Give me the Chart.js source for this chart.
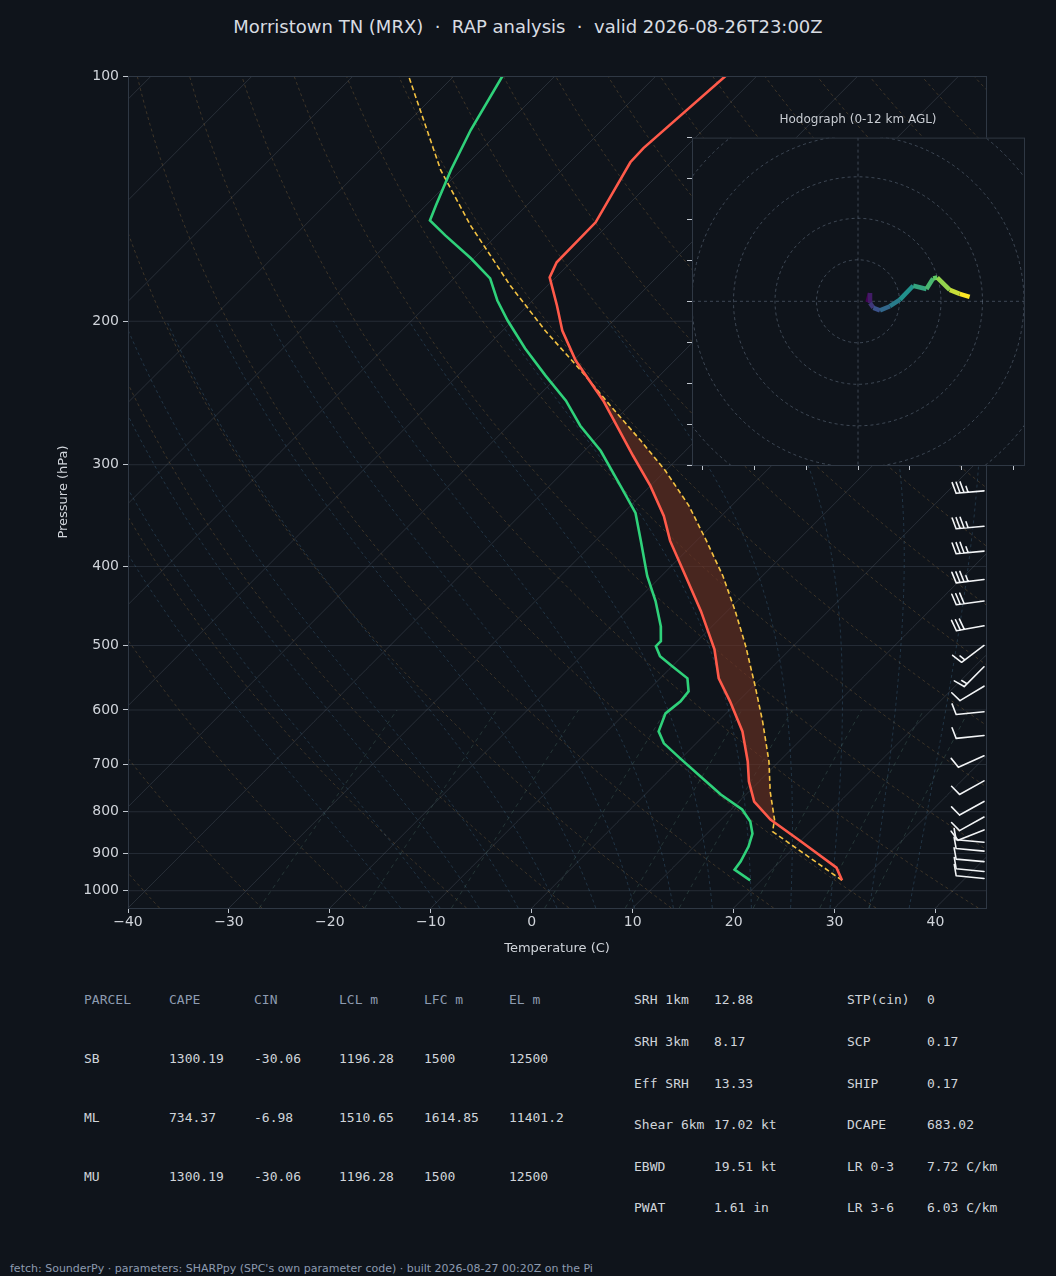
<!DOCTYPE html>
<html><head><meta charset="utf-8">
<script src="https://cdn.jsdelivr.net/npm/chart.js@4/dist/chart.umd.min.js"></script>
<style>
html,body{margin:0;padding:0;background:#0f141b;width:1056px;height:1276px;overflow:hidden;font-family:"DejaVu Sans",sans-serif;}
#title{position:absolute;left:0;width:1056px;top:16px;text-align:center;color:#d8dce2;font-size:18px;white-space:pre;}
#main{position:absolute;left:0;top:0;width:1056px;height:960px;}
#hodoT{position:absolute;left:692px;width:332px;top:112px;text-align:center;color:#c8ccd2;font-size:12px;}
#hodo{position:absolute;left:680px;top:134px;width:350px;height:341px;}
.t{position:absolute;font-family:"DejaVu Sans Mono",monospace;font-size:13px;color:#d0d4da;white-space:pre;}
.h{color:#8d9bb0;}
#foot{position:absolute;left:10px;top:1262px;font-size:11px;color:#8d9bb0;}
</style></head><body>
<div id="title">Morristown TN (MRX)  ·  RAP analysis  ·  valid 2026-08-26T23:00Z</div>
<div id="main"><canvas id="c1" width="1056" height="960"></canvas></div>
<div id="hodoT">Hodograph (0-12 km AGL)</div>
<div id="hodo"><canvas id="c2" width="350" height="341"></canvas></div>
<div id="tables"></div>
<div id="foot">fetch: SounderPy · parameters: SHARPpy (SPC's own parameter code) · built 2026-08-27 00:20Z on the Pi</div>
<script>
// ---- data ----
const tempP = [100,122.6,127.6,151.2,169.3,176.7,191.3,205.3,223.5,250.3,292.5,318.5,346.7,372.1,410.9,453.8,505.3,548.6,585.5,637.4,693.9,734.4,777.1,817.8,870.2,936.9,971];
const tempT = [-63.1,-64.1,-64.0,-61.5,-61.4,-60.6,-57.1,-54.1,-49.8,-43.1,-34.7,-30.0,-25.7,-22.6,-17.6,-12.6,-7.5,-4.2,-0.8,3.4,6.9,9.0,11.5,14.9,20.1,26.2,28.0];
const dewP = [100,116.5,130.5,144.1,150.4,156.9,167.4,177.2,188.6,199.6,216.0,233.2,250.3,268.7,288.4,321.2,343.8,372.1,410.9,441.0,473.4,494.0,501.0,515.4,530.2,548.6,569.1,585.5,605.8,637.4,659.3,687.9,723.9,761.9,794.9,822.4,850.8,882.7,921.0,942.2,971];
const dewT = [-85.2,-83.0,-81.0,-79.0,-78.1,-75.1,-70.3,-66.4,-63.5,-60.5,-56.0,-51.3,-46.8,-42.9,-38.4,-32.5,-28.8,-25.5,-21.4,-18.1,-15.1,-13.6,-13.6,-12.2,-10.0,-7.3,-5.9,-5.7,-6.0,-4.9,-3.2,-0.1,3.7,7.5,11.1,13.1,14.5,15.4,16.1,16.3,18.9];
const parcelP = [971,846,817.8,755.5,693.9,619.5,561.1,501.0,453.8,410.9,372.1,337.0,305.2,280.4,253.9,229.9,205.3,180.8,152.5,130.5,100];
const parcelT = [28.0,16.3,15.3,12.1,9.0,4.4,0.2,-4.7,-9.2,-13.9,-19.0,-24.2,-30.0,-35.4,-41.9,-48.3,-55.8,-63.7,-73.6,-82.0,-94.5];
const pTicks = [100,200,300,400,500,600,700,800,900,1000];
const tTicks = [-40,-30,-20,-10,0,10,20,30,40];
const barbP = [130,170,220,270,323,357,383,415,441,473,500,531,561,603,645,683,733,777,812,842,872,894,921,947,966];
const barbU = [40,38,36,34,34,34,33,33,30,28,12,10,10,10,10,9,9,9,9,10,11,11,11,10,10];
const barbV = [4,4,4,3,3,3,3,4,4,5,9,10,6,1,1,4,5,5,5,4,-1,-1,-1,-1,-1];
const hodoU = [2.3,2.9,2.9,3.7,5.3,7.7,10.1,13.3,16.5,18.1,19.1,22.1,24.5,26.9];
const hodoV = [-0.2,2.0,-0.4,-1.6,-2.2,-1.2,0.4,3.8,3.0,5.6,5.8,2.8,1.8,1.1];
const parcelTable = [["PARCEL","CAPE","CIN","LCL m","LFC m","EL m"],["SB","1300.19","-30.06","1196.28","1500","12500"],["ML","734.37","-6.98","1510.65","1614.85","11401.2"],["MU","1300.19","-30.06","1196.28","1500","12500"]];
const paramsA = [["SRH 1km","12.88"],["SRH 3km","8.17"],["Eff SRH","13.33"],["Shear 6km","17.02 kt"],["EBWD","19.51 kt"],["PWAT","1.61 in"]];
const paramsB = [["STP(cin)","0"],["SCP","0.17"],["SHIP","0.17"],["DCAPE","683.02"],["LR 0-3","7.72 C/km"],["LR 3-6","6.03 C/km"]];

// ---- tables ----
(function(){
  const box=document.getElementById('tables');let h='';
  const cx=[84,169,254,339,424,509], ry=[992,1051,1110,1169];
  parcelTable.forEach((r,i)=>r.forEach((c,j)=>{h+=`<div class="t${i==0?' h':''}" style="left:${cx[j]}px;top:${ry[i]}px">${c}</div>`;}));
  const py=[992,1034,1076,1117,1159,1200];
  paramsA.forEach((r,i)=>{h+=`<div class="t" style="left:634px;top:${py[i]}px">${r[0]}</div><div class="t" style="left:714px;top:${py[i]}px">${r[1]}</div>`;});
  paramsB.forEach((r,i)=>{h+=`<div class="t" style="left:847px;top:${py[i]}px">${r[0]}</div><div class="t" style="left:927px;top:${py[i]}px">${r[1]}</div>`;});
  box.innerHTML=h;
})();

// ---- skew-T ----
const SKEW = 35.0, PB = 1050;
const sk = (T,p) => T + SKEW*Math.log(PB/p);
const pts = (P,T) => P.map((p,i)=>({x:sk(T[i],p), y:p}));
const capeShape = [];
parcelP.forEach((p,i)=>{ if(p<=818 && p>=215) capeShape.push({x:sk(parcelT[i],p),y:p}); });
tempP.forEach((p,i)=>{ if(p<=818 && p>=215) capeShape.push({x:sk(tempT[i],p),y:p}); });

function es(Tc){return 6.112*Math.exp(17.67*Tc/(Tc+243.5));}
const bgLines = {
  id:'bgLines',
  beforeDatasetsDraw(chart){
    const {ctx,chartArea:a,scales:{x,y}}=chart;
    ctx.save();ctx.beginPath();ctx.rect(a.left,a.top,a.right-a.left,a.bottom-a.top);ctx.clip();
    const draw=(fn,color,dash,p0=PB,p1=100)=>{
      ctx.beginPath();ctx.strokeStyle=color;ctx.setLineDash(dash);ctx.lineWidth=1;
      let first=true;
      for(let p=p0;p>=p1;p-=5){const T=fn(p);const px=x.getPixelForValue(sk(T,p)),py=y.getPixelForValue(p);
        if(first){ctx.moveTo(px,py);first=false;}else ctx.lineTo(px,py);}
      ctx.stroke();
    };
    ctx.strokeStyle='rgba(120,132,148,0.22)';ctx.lineWidth=1;ctx.setLineDash([]);
    pTicks.forEach(p=>{const py=y.getPixelForValue(p);ctx.beginPath();ctx.moveTo(a.left,py);ctx.lineTo(a.right,py);ctx.stroke();});
    for(let T=-160;T<=50;T+=10) draw(p=>T,'rgba(120,132,148,0.25)',[]);
    for(let th=233;th<=473;th+=10) draw(p=>th*Math.pow(p/1000,0.2857)-273.15,'rgba(150,115,65,0.35)',[3,3]);
    const Rd=287,Cp=1005,Lv=2.5e6,eps=0.622;
    const lapse=(T,p)=>{const Tc=T-273.15,e=es(Tc),rs=eps*e/(p-e);return (Rd*T+Lv*rs)/(p*(Cp+Lv*Lv*rs*eps/(Rd*T*T)));};
    for(let T0=-16;T0<=36;T0+=4){
      const arr={};let T=T0+273.15;arr[1000]=T;
      for(let p=1000;p>200;p-=1){T-=lapse(T,p);arr[p-1]=T;}
      T=T0+273.15;for(let p=1000;p<PB;p+=1){T+=lapse(T,p);arr[p+1]=T;}
      draw(p=>arr[Math.round(p)]-273.15,'rgba(70,115,150,0.35)',[3,3],PB,200);
    }
    [0.4,1,2,4,7,10,16,24,32].forEach(w=>draw(p=>{const e=w*p/(622+w),l=Math.log(e/6.112);return 243.5*l/(17.67-l);},'rgba(80,120,110,0.35)',[4,4],PB,600));
    ctx.restore();
  },
  afterDatasetsDraw(chart){
    const {ctx,chartArea:a,scales:{y}}=chart;
    ctx.save();ctx.strokeStyle='#f2f4f6';ctx.lineWidth=1.6;ctx.setLineDash([]);ctx.lineCap='round';
    barbP.forEach((p,i)=>{
      const u=barbU[i],v=barbV[i],spd=Math.hypot(u,v);
      const bx=a.right-2,by=y.getPixelForValue(p);
      const sx=-u/spd, sy=v/spd;
      const L=28, tx=bx+sx*L, ty=by+sy*L;
      ctx.beginPath();ctx.moveTo(bx,by);ctx.lineTo(tx,ty);
      const nx=-sy, ny=sx;
      let rem=Math.round(spd/5)*5,pos=0;
      while(rem>=10){const ox=tx-sx*pos,oy=ty-sy*pos;ctx.moveTo(ox,oy);ctx.lineTo(ox+nx*11+sx*3,oy+ny*11+sy*3);pos+=4;rem-=10;}
      if(rem>=5){if(pos==0)pos=4;const ox=tx-sx*pos,oy=ty-sy*pos;ctx.moveTo(ox,oy);ctx.lineTo(ox+nx*6+sx*1.5,oy+ny*6+sy*1.5);}
      ctx.stroke();
    });
    ctx.restore();
  }
};
const fmt=v=>String(v).replace('-','\u2212');
const tickFont={size:14,family:'DejaVu Sans'};
new Chart(document.getElementById('c1'),{
  type:'scatter',
  data:{datasets:[
    {data:capeShape,showLine:true,fill:'shape',backgroundColor:'rgba(110,50,35,0.6)',borderWidth:0,pointRadius:0,order:3},
    {data:pts(tempP,tempT),showLine:true,borderColor:'#ff5a4a',borderWidth:2.6,pointRadius:0,order:1},
    {data:pts(dewP,dewT),showLine:true,borderColor:'#2fd17a',borderWidth:2.6,pointRadius:0,order:1},
    {data:pts(parcelP,parcelT),showLine:true,borderColor:'#f5c342',borderWidth:1.6,borderDash:[5,3],pointRadius:0,order:2}
  ]},
  options:{responsive:false,animation:false,
    layout:{padding:{left:52,right:70,top:76,bottom:0}},
    plugins:{legend:{display:false},tooltip:{enabled:false}},
    scales:{
      x:{type:'linear',min:-40,max:45,
        afterBuildTicks:s=>{s.ticks=tTicks.map(v=>({value:v}));},
        afterFit:s=>{s.height=52;},
        ticks:{color:'#d0d4da',font:tickFont,callback:v=>fmt(v),padding:1},
        grid:{drawOnChartArea:false,color:'#c0c6ce',tickLength:5},
        border:{color:'#2f3844'},
        title:{display:true,text:'Temperature (C)',color:'#d0d4da',font:{size:13,family:'DejaVu Sans'},padding:{top:0}}},
      y:{type:'logarithmic',reverse:true,min:100,max:PB,
        afterBuildTicks:s=>{s.ticks=pTicks.map(v=>({value:v}));},
        afterFit:s=>{s.width=76;},
        ticks:{color:'#d0d4da',font:tickFont,callback:v=>String(v),padding:4},
        grid:{drawOnChartArea:false,color:'#c0c6ce',tickLength:5},
        border:{color:'#2f3844'},
        title:{display:true,text:'Pressure (hPa)',color:'#d0d4da',font:{size:13,family:'DejaVu Sans'},padding:{bottom:0}}}
    }},
  plugins:[bgLines,{id:'frame',afterDraw(c){const {ctx,chartArea:a}=c;ctx.save();ctx.strokeStyle='#2f3844';ctx.lineWidth=1;ctx.strokeRect(a.left+0.5,a.top+0.5,a.right-a.left,a.bottom-a.top);ctx.restore();}}]
});

// ---- hodograph ----
const vir=['#440154','#3b528b','#21918c','#5ec962','#fde725'];
function hexMix(c1,c2,t){const a=parseInt(c1.slice(1),16),b=parseInt(c2.slice(1),16);const r=(a>>16)+((b>>16)-(a>>16))*t,g=((a>>8)&255)+(((b>>8)&255)-((a>>8)&255))*t,bl=(a&255)+((b&255)-(a&255))*t;return `rgb(${r|0},${g|0},${bl|0})`;}
function viridis(f){const s=f*(vir.length-1),i=Math.min(Math.floor(s),vir.length-2);return hexMix(vir[i],vir[i+1],s-i);}
const hodoBg={id:'hodoBg',
  beforeDraw(c){const {ctx,chartArea:a,scales:{x,y}}=c;ctx.save();ctx.fillStyle='#0f141b';ctx.fillRect(a.left,a.top,a.right-a.left,a.bottom-a.top);
    ctx.beginPath();ctx.rect(a.left,a.top,a.right-a.left,a.bottom-a.top);ctx.clip();
    ctx.strokeStyle='rgba(120,135,155,0.45)';ctx.setLineDash([3,3]);ctx.lineWidth=1;
    const cx=x.getPixelForValue(0),cy=y.getPixelForValue(0);
    [10,20,30,40,50].forEach(r=>{ctx.beginPath();ctx.arc(cx,cy,x.getPixelForValue(r)-cx,0,Math.PI*2);ctx.stroke();});
    ctx.beginPath();ctx.moveTo(a.left,cy);ctx.lineTo(a.right,cy);ctx.moveTo(cx,a.top);ctx.lineTo(cx,a.bottom);ctx.stroke();
    ctx.restore();},
  afterDraw(c){const {ctx,chartArea:a}=c;ctx.save();ctx.strokeStyle='#2f3844';ctx.strokeRect(a.left+0.5,a.top+0.5,a.right-a.left,a.bottom-a.top);ctx.restore();}};
const n=hodoU.length;
new Chart(document.getElementById('c2'),{
  type:'scatter',
  data:{datasets:[{data:hodoU.map((u,i)=>({x:u,y:hodoV[i]})),showLine:true,borderWidth:4.5,pointRadius:0,borderCapStyle:'butt',
    segment:{borderColor:ctx=>viridis(ctx.p0DataIndex/(n-2))}}]},
  options:{responsive:false,animation:false,layout:{padding:{left:0,right:6,top:0,bottom:0}},
    plugins:{legend:{display:false},tooltip:{enabled:false}},
    scales:{
      x:{min:-40,max:40,afterBuildTicks:s=>{s.ticks=[-37.5,-25,-12.5,0,12.5,25,37.5].map(v=>({value:v}));},afterFit:s=>{s.height=10;},
        ticks:{display:true,callback:()=>'',font:{size:1}},grid:{drawOnChartArea:false,color:'#c0c6ce',tickLength:5},border:{display:false}},
      y:{min:-40,max:40,afterBuildTicks:s=>{s.ticks=[-40,-30,-20,-10,0,10,20,30,40].map(v=>({value:v}));},afterFit:s=>{s.width=12;},
        ticks:{display:true,callback:()=>'',font:{size:1}},grid:{drawOnChartArea:false,color:'#c0c6ce',tickLength:5},border:{display:false}}
    }},
  plugins:[hodoBg]
});
</script>
</body></html>
